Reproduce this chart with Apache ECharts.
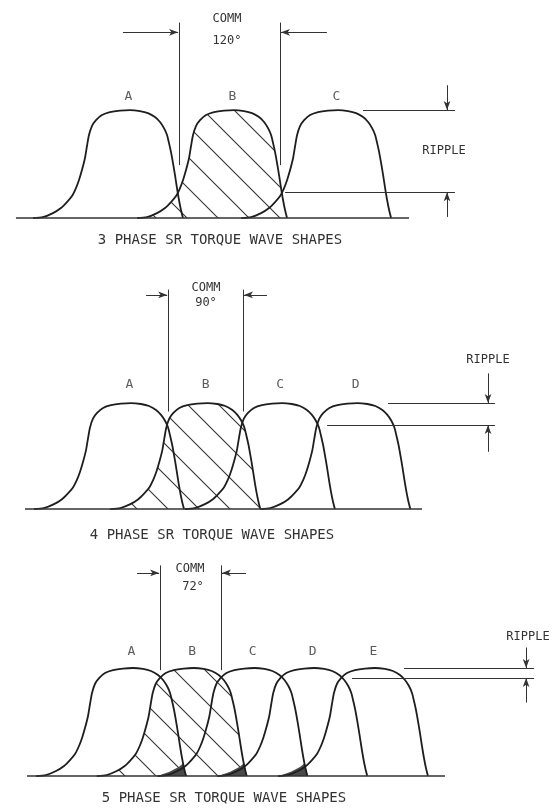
<!DOCTYPE html>
<html>
<head>
<meta charset="utf-8">
<script src="https://cdn.jsdelivr.net/npm/echarts/dist/echarts.min.js"></script>
<style>
html, body { margin: 0; padding: 0; background: #fff; }
#main { width: 555px; height: 808px; }
</style>
</head>
<body>
<div id="main"></div>
<script>
// one torque wave, read off phase A of the 3 phase drawing
// angle in degrees from the foot, torque relative to the peak
var waveAngle  = [0, 11.5, 23.1, 32.3, 39.2, 45, 49.6, 53.1, 56.5, 60, 62.3, 64.6, 68, 72.7, 79.6, 88.8, 100.3, 111.9, 123.4, 132.6, 140.7, 146.5, 151.1, 154.6, 156.9, 159.2, 161.5, 163.8, 166.1, 168.4, 170.7, 173];
var waveTorque = [0, 0.009, 0.046, 0.093, 0.148, 0.204, 0.278, 0.352, 0.444, 0.556, 0.667, 0.769, 0.852, 0.907, 0.954, 0.981, 0.995, 1, 0.991, 0.972, 0.935, 0.889, 0.833, 0.769, 0.694, 0.611, 0.509, 0.398, 0.278, 0.167, 0.074, 0];

var phaseNames = ['A', 'B', 'C', 'D', 'E'];
var phaseStart3 = [0, 120, 240];
var phaseStart4 = [0, 88, 174, 261];
var phaseStart5 = [0, 70, 140, 209, 279];

var commText = ['120°', '90°', '72°'];
var panelTitles = ['3 PHASE SR TORQUE WAVE SHAPES', '4 PHASE SR TORQUE WAVE SHAPES', '5 PHASE SR TORQUE WAVE SHAPES'];

// commutation lines (degrees) and their extent (torque)
var commLeft   = [168.4, 154.6, 143];
var commRight  = [285, 241.1, 213.4];
var commTop    = [1.81, 2.07, 1.95];
var commBottom = [0.49, 0.92, 0.98];
var commArrowY = [1.72, 2.02, 1.88];
var commLeftTail  = [103.8, 129.2, 116.5];
var commRightTail = [339, 268.7, 242.2];

// ripple dimension
var rippleLow      = [0.24, 0.792, 0.907];
var rippleHighFrom = [380.6, 408.3, 424.5];
var rippleLowFrom  = [290.7, 338, 364.5];
var rippleTo       = [486.7, 531.7, 574.4];
var rippleArrowX   = [477.5, 523.6, 565.2];
var rippleArrowTop = [1.23, 1.28, 1.19];
var rippleArrowBot = [0.01, 0.54, 0.68];

var baseFrom = [-19.6, -10.4, -10.4];
var baseTo   = [433.7, 447.5, 471.7];
var labelTorque = [1.12, 1.17, 1.15];

// 5 phase: dark wedge where three phases overlap (degrees from the earlier phase)
var wedgeAngle  = [140, 154, 165, 170, 173];
var wedgeTorque = [0, 0.04, 0.085, 0.12, 0];

var starts = [phaseStart3, phaseStart4, phaseStart5];

var panels = [
    {top: 0,   height: 270, xMin: -38,   yMin: -0.481, yMax: 2.019},
    {top: 270, height: 270, xMin: -39.2, yMin: -0.292, yMax: 2.255},
    {top: 540, height: 268, xMin: -41.5, yMin: -0.296, yMax: 2.185}
];
var textPos = [
    {comm: [227, 19], deg: [227, 41], ripple: [444, 151], title: [220, 240]},
    {comm: [206, 288], deg: [206, 303], ripple: [488, 360], title: [212, 535]},
    {comm: [190, 569], deg: [193, 587], ripple: [528, 637], title: [224, 798]}
];

// hatch tile
var hatch = document.createElement('canvas');
hatch.width = 31; hatch.height = 31;
var hc = hatch.getContext('2d');
hc.strokeStyle = '#333';
hc.lineWidth = 1.1;
hc.beginPath();
hc.moveTo(-2, -2); hc.lineTo(33, 33);
hc.moveTo(-2, 29); hc.lineTo(2, 33);
hc.moveTo(29, -2); hc.lineTo(33, 2);
hc.stroke();

function wave(start) {
    return waveAngle.map(function (a, i) { return [a + start, waveTorque[i]]; });
}

var grid = [], xAxis = [], yAxis = [], series = [], graphic = [];
var font = '"DejaVu Sans Mono", "Liberation Mono", monospace';

panels.forEach(function (p, k) {
    grid.push({left: 0, width: 555, top: p.top, height: p.height});
    xAxis.push({type: 'value', gridIndex: k, min: p.xMin, max: p.xMin + 640, show: false});
    yAxis.push({type: 'value', gridIndex: k, min: p.yMin, max: p.yMax, show: false});

    // hatched phase B
    series.push({
        type: 'line', xAxisIndex: k, yAxisIndex: k, silent: true, z: 1,
        data: wave(starts[k][1]), smooth: 0.25, symbol: 'none',
        lineStyle: {width: 0, opacity: 0},
        areaStyle: {color: {image: hatch, repeat: 'repeat'}, opacity: 1}
    });

    if (k === 2) {
        for (var w = 0; w < 3; w++) {
            series.push({
                type: 'line', xAxisIndex: k, yAxisIndex: k, silent: true, z: 2,
                data: wedgeAngle.map(function (a, i) { return [a + starts[k][w], wedgeTorque[i]]; }),
                symbol: 'none', lineStyle: {width: 0, opacity: 0},
                areaStyle: {color: '#4a4a4a', opacity: 1}
            });
        }
    }

    starts[k].forEach(function (s) {
        series.push({
            type: 'line', xAxisIndex: k, yAxisIndex: k, silent: true, z: 3,
            data: wave(s), smooth: 0.25, symbol: 'none',
            lineStyle: {color: '#1e1e1e', width: 1.8}
        });
    });

    var arrowEnd = {symbol: 'arrow', symbolSize: [5, 9]};
    series.push({
        type: 'line', xAxisIndex: k, yAxisIndex: k, silent: true, z: 3,
        data: [[baseFrom[k], 0], [baseTo[k], 0]], symbol: 'none',
        lineStyle: {color: '#333', width: 1.6},
        markLine: {
            silent: true, animation: false, symbol: 'none',
            label: {show: false},
            lineStyle: {color: '#333', width: 1, type: 'solid'},
            data: [
                [{coord: [commLeft[k], commTop[k]]}, {coord: [commLeft[k], commBottom[k]]}],
                [{coord: [commRight[k], commTop[k]]}, {coord: [commRight[k], commBottom[k]]}],
                [{coord: [commLeftTail[k], commArrowY[k]]}, Object.assign({coord: [commLeft[k] - 1, commArrowY[k]]}, arrowEnd)],
                [{coord: [commRightTail[k], commArrowY[k]]}, Object.assign({coord: [commRight[k] + 1, commArrowY[k]]}, arrowEnd)],
                [{coord: [rippleHighFrom[k], 1]}, {coord: [rippleTo[k], 1]}],
                [{coord: [rippleLowFrom[k], rippleLow[k]]}, {coord: [rippleTo[k], rippleLow[k]]}],
                [{coord: [rippleArrowX[k], rippleArrowTop[k]]}, Object.assign({coord: [rippleArrowX[k], 1]}, arrowEnd)],
                [{coord: [rippleArrowX[k], rippleArrowBot[k]]}, Object.assign({coord: [rippleArrowX[k], rippleLow[k]]}, arrowEnd)]
            ]
        }
    });

    series.push({
        type: 'scatter', xAxisIndex: k, yAxisIndex: k, silent: true, symbolSize: 0, z: 4,
        data: starts[k].map(function (s, i) { return {name: phaseNames[i], value: [s + 110, labelTorque[k]]}; }),
        label: {show: true, position: 'inside', formatter: '{b}', color: '#333', fontSize: 13, fontFamily: font}
    });

    var t = textPos[k];
    [['COMM', t.comm, 12], [commText[k], t.deg, 12], ['RIPPLE', t.ripple, 12], [panelTitles[k], t.title, 14]].forEach(function (d) {
        graphic.push({
            type: 'text', x: d[1][0], y: d[1][1], silent: true,
            style: {text: d[0], font: d[2] + 'px ' + font, fill: '#333',
                textAlign: 'center', textVerticalAlign: 'middle', align: 'center', verticalAlign: 'middle'}
        });
    });
});

var chart = echarts.init(document.getElementById('main'));
var option = {
    backgroundColor: '#fff',
    animation: false,
    grid: grid,
    xAxis: xAxis,
    yAxis: yAxis,
    series: series,
    graphic: graphic
};
chart.setOption(option);
</script>
</body>
</html>
